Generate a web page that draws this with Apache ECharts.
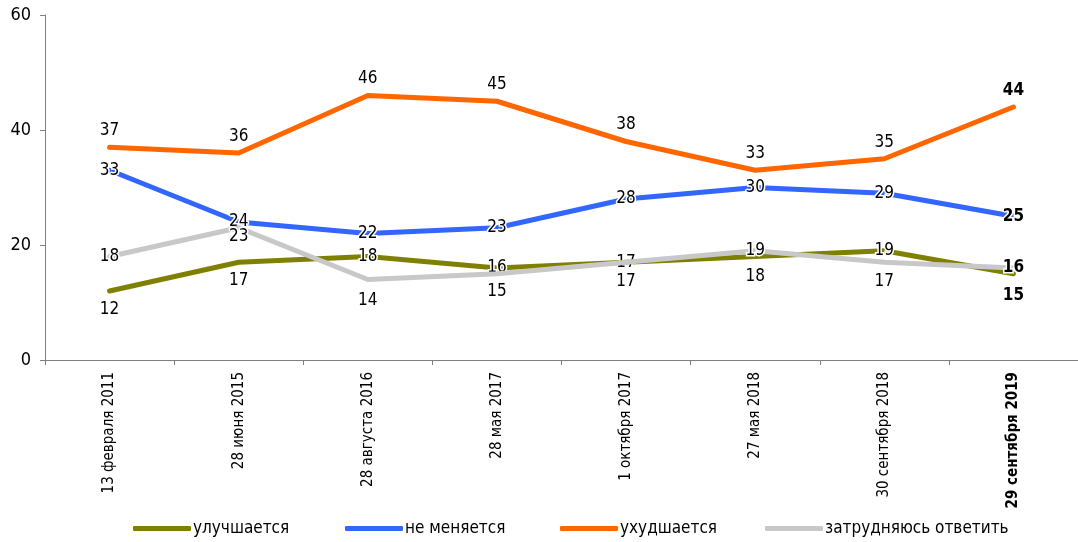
<!DOCTYPE html>
<html>
<head>
<meta charset="utf-8">
<script src="https://cdn.jsdelivr.net/npm/echarts@6/dist/echarts.min.js"></script>
<style>
html,body{margin:0;padding:0;background:#fff;}
#chart{width:1078px;height:542px;}
</style>
</head>
<body>
<div id="chart"></div>
<script>
var categories = ['13 февраля 2011','28 июня 2015','28 августа 2016','28 мая 2017','1 октября 2017','27 мая 2018','30 сентября 2018','29 сентября 2019'];
var improving = [12, 17, 18, 16, 17, 18, 19, 15];
var unchanged = [33, 24, 22, 23, 28, 30, 29, 25];
var worsening = [37, 36, 46, 45, 38, 33, 35, 44];
var undecided = [18, 23, 14, 15, 17, 19, 17, 16];
var seriesNames = ['улучшается', 'не меняется', 'ухудшается', 'затрудняюсь ответить'];
var yTicks = [0, 20, 40, 60];

var FONT = '"DejaVu Sans Condensed", "DejaVu Sans", sans-serif';

function buildData(values, positions, distances) {
  var last = values.length - 1;
  return values.map(function (v, i) {
    return {
      value: v,
      label: {
        position: positions[i],
        distance: distances[i],
        fontWeight: i === last ? 'bold' : 'normal'
      }
    };
  });
}

var P = {
  improving: { pos: ['bottom','bottom','inside','inside','inside','bottom','inside','bottom'], dist: [10,10,0,0,0,12,0,13] },
  unchanged: { pos: ['inside','inside','inside','inside','inside','inside','inside','inside'], dist: [0,0,0,0,0,0,0,0] },
  worsening: { pos: ['top','top','top','top','top','top','top','top'], dist: [8,8,8,8,8,8,8,8] },
  undecided: { pos: ['inside','bottom','bottom','bottom','bottom','inside','bottom','inside'], dist: [0,0,13,9,11,0,11,0] }
};

var colors = ['#808000', '#3366ff', '#ff6600', '#c8c8c8'];
var valuesList = [improving, unchanged, worsening, undecided];
var keys = ['improving', 'unchanged', 'worsening', 'undecided'];
var legendLefts = [133, 345, 560, 765];

var series = valuesList.map(function (vals, k) {
  return {
    name: seriesNames[k],
    type: 'line',
    data: buildData(vals, P[keys[k]].pos, P[keys[k]].dist),
    symbol: 'circle',
    symbolSize: 0,
    showSymbol: true,
    lineStyle: { width: 5, color: colors[k], cap: 'round', join: 'round' },
    itemStyle: { color: colors[k] },
    label: {
      show: true,
      fontFamily: FONT,
      fontSize: 17,
      color: '#000',
      textBorderColor: '#fff',
      textBorderWidth: 3
    },
    labelLayout: { hideOverlap: false },
    z: 2 + k,
    emphasis: { disabled: true },
    animation: false
  };
});

var legends = seriesNames.map(function (name, k) {
  return {
    data: [name],
    left: legendLefts[k],
    top: 520,
    padding: 0,
    itemWidth: 58,
    itemHeight: 5,
    itemGap: 0,
    icon: 'roundRect',
    textStyle: { fontFamily: FONT, fontSize: 17, color: '#000', padding: [0, 0, 0, -3] },
    selectedMode: false
  };
});

var chart = echarts.init(document.getElementById('chart'), null, { renderer: 'canvas' });
chart.setOption({
  animation: false,
  backgroundColor: '#fff',
  color: colors,
  grid: { left: 45, top: 15, width: 1040, height: 345, containLabel: false },
  legend: legends,
  xAxis: {
    type: 'category',
    data: categories,
    boundaryGap: true,
    axisLine: { lineStyle: { color: '#808080', width: 1 } },
    axisTick: { show: true, length: 5, lineStyle: { color: '#808080' } },
    axisLabel: {
      rotate: 90,
      margin: 12,
      interval: 0,
      fontFamily: FONT,
      fontSize: 15,
      color: '#000',
      formatter: function (v, i) {
        return i === categories.length - 1 ? '{b|' + v + '}' : v;
      },
      rich: { b: { fontWeight: 'bold', fontFamily: FONT, fontSize: 15, color: '#000' } }
    }
  },
  yAxis: {
    type: 'value',
    min: yTicks[0],
    max: yTicks[yTicks.length - 1],
    interval: 20,
    splitLine: { show: false },
    axisLine: { show: true, lineStyle: { color: '#808080', width: 1 } },
    axisTick: { show: true, length: 5, inside: false, lineStyle: { color: '#808080' } },
    axisLabel: { margin: 14, fontFamily: FONT, fontSize: 18, color: '#000' }
  },
  series: series
});
</script>
</body>
</html>
